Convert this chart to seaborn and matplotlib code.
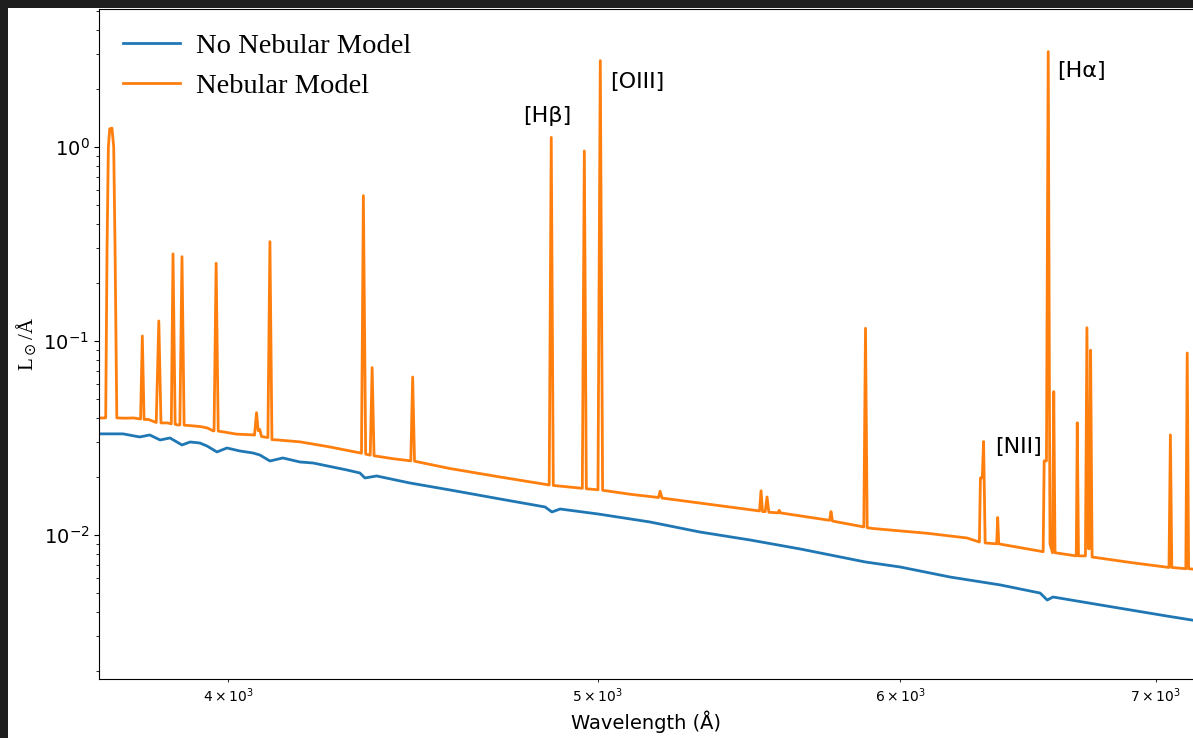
import matplotlib
matplotlib.use("Agg")
import matplotlib.pyplot as plt
import pandas as pd
import seaborn as sns
from matplotlib.patches import Rectangle

# ---------------- data ----------------
series_labels = ["No Nebular Model", "Nebular Model"]

wave_no_neb = [3700, 3754, 3792, 3815, 3839, 3862, 3890, 3909, 3932, 3949,
               3973, 3997, 4028, 4060, 4077, 4102, 4134, 4177, 4210, 4297,
               4331, 4344, 4375, 4463, 4573, 4713, 4843, 4863, 4887, 5000,
               5159, 5317, 5481, 5649, 5875, 6000, 6184, 6373, 6529, 6557,
               6580, 6770, 7049, 7170]
flux_no_neb = [0.0332, 0.0332, 0.0320, 0.03277, 0.03088, 0.03162, 0.0291, 0.03015, 0.02979, 0.02876,
               0.02679, 0.02808, 0.0271, 0.02647, 0.02585, 0.02406, 0.02494, 0.02378, 0.0235, 0.02163,
               0.02087, 0.01967, 0.02014, 0.01854, 0.01706, 0.01533, 0.01394, 0.01314, 0.01361, 0.01283,
               0.01167, 0.01036, 0.00942, 0.00847, 0.00726, 0.00684, 0.00607, 0.00553, 0.00502, 0.00462,
               0.00479, 0.00436, 0.00382, 0.00362]

wave_neb = [3700, 3712,
            3715, 3718, 3721, 3724, 3729, 3733, 3736, 3740,
            3760, 3778, 3794, 3798, 3802, 3812, 3830, 3836, 3841, 3856,
            3865, 3869, 3874, 3880, 3885, 3890, 3895, 3910, 3934, 3950,
            3964, 3966, 3971, 3976, 3988, 4020, 4061,
            4064, 4069, 4073, 4077, 4081, 4095, 4097, 4102, 4107, 4120,
            4177, 4250, 4331, 4335, 4340, 4346, 4358, 4363, 4368, 4420,
            4466, 4471, 4476, 4573, 4713, 4855, 4861, 4867, 4953, 4959,
            4965, 5000, 5007, 5014, 5100, 5186, 5191, 5197, 5318, 5510,
            5512, 5517, 5522, 5531, 5537, 5543, 5574, 5578, 5582, 5750,
            5755, 5760, 5870, 5876, 5882, 5902, 6100, 6247, 6294, 6298,
            6305, 6310, 6316, 6360, 6364, 6368, 6541, 6545, 6554, 6561,
            6568, 6578, 6583, 6588, 6673, 6677, 6682, 6710, 6716, 6722,
            6726, 6731, 6737, 6900, 7057, 7063, 7069, 7129, 7135, 7141,
            7170]
flux_neb = [0.0401, 0.0401,
            0.0402, 0.30, 1.00, 1.24, 1.25, 1.00, 0.30, 0.0401,
            0.0400, 0.0401, 0.0396, 0.1061, 0.0394, 0.0394, 0.0380, 0.1268, 0.0378, 0.0378,
            0.0374, 0.281, 0.0372, 0.0369, 0.0369, 0.272, 0.0368, 0.0366, 0.0362, 0.0356,
            0.0344, 0.0344, 0.2515, 0.0343, 0.0340, 0.0331, 0.0328,
            0.0327, 0.0427, 0.0345, 0.0350, 0.0322, 0.0318, 0.0318, 0.325, 0.0310, 0.0309,
            0.0302, 0.0285, 0.0265, 0.0264, 0.561, 0.0261, 0.0258, 0.0729, 0.0256, 0.0247,
            0.0241, 0.0652, 0.0240, 0.0220, 0.0199, 0.0181, 1.12, 0.0180, 0.0174, 0.953,
            0.0173, 0.0171, 2.785, 0.0170, 0.0162, 0.0156, 0.0168, 0.0155, 0.0146, 0.0133,
            0.0133, 0.0169, 0.0132, 0.0132, 0.0157, 0.0131, 0.0130, 0.0134, 0.0130, 0.0119,
            0.0132, 0.0118, 0.0110, 0.1162, 0.0109, 0.0108, 0.0102, 0.00965, 0.0092, 0.0197,
            0.0197, 0.0303, 0.0091, 0.0090, 0.0123, 0.0090, 0.0082, 0.0241, 0.0241, 3.10,
            0.0090, 0.0081, 0.0548, 0.0081, 0.0078, 0.0379, 0.0078, 0.0078, 0.117, 0.0085,
            0.0085, 0.0897, 0.0077, 0.0072, 0.0068, 0.0328, 0.0068, 0.0067, 0.0867, 0.0067,
            0.00665]

line_labels = ["[Hβ]", "[OIII]", "[Hα]", "[NII]"]
label_wave = [4848, 5120, 6694, 6445]
label_flux = [1.445, 2.16, 2.47, 0.0284]

# ---------------- figure ----------------
W, H = 1193, 738
fig = plt.figure(figsize=(W / 100, H / 100), dpi=100)
fig.patch.set_facecolor("white")
ax = fig.add_axes([99 / W, 59 / H, (W - 99) / W, 670 / H])

df_no = pd.DataFrame({"wave": wave_no_neb, "flux": flux_no_neb})
df_neb = pd.DataFrame({"wave": wave_neb, "flux": flux_neb})

sns.lineplot(data=df_no, x="wave", y="flux", ax=ax, color="#1f77b4", lw=2,
             label=series_labels[0], estimator=None, sort=False)
sns.lineplot(data=df_neb, x="wave", y="flux", ax=ax, color="#ff7f0e", lw=2,
             label=series_labels[1], estimator=None, sort=False)

ax.set_xscale("log")
ax.set_yscale("log")
ax.set_xlim(3700, 7160)
ax.set_ylim(0.00181, 5.14)
ax.spines["right"].set_visible(False)

ax.tick_params(axis="y", which="major", labelsize=14)
ax.set_xlabel("Wavelength (Å)", fontsize=14, family="DejaVu Sans")
plt.rcParams["mathtext.fontset"] = "stix"
ax.set_ylabel(r"L$_\odot$/Å", fontsize=15, family="Liberation Serif", labelpad=3)

for txt, xw, yf in zip(line_labels, label_wave, label_flux):
    ax.text(xw, yf, txt, ha="center", va="center", fontsize=16, family="DejaVu Sans")

ax.legend(loc="upper left", frameon=False, handletextpad=0.55,
          borderaxespad=0.45,
          prop={"family": "Liberation Serif", "size": 20.5})

# dark screenshot border (top and left)
fig.add_artist(Rectangle((0, 1 - 7.5 / H), 1, 7.5 / H, transform=fig.transFigure,
                         facecolor="#1e1e1e", edgecolor="none", zorder=20))
fig.add_artist(Rectangle((0, 0), 8 / W, 1, transform=fig.transFigure,
                         facecolor="#1e1e1e", edgecolor="none", zorder=20))

fig.savefig("out.png", dpi=100)
